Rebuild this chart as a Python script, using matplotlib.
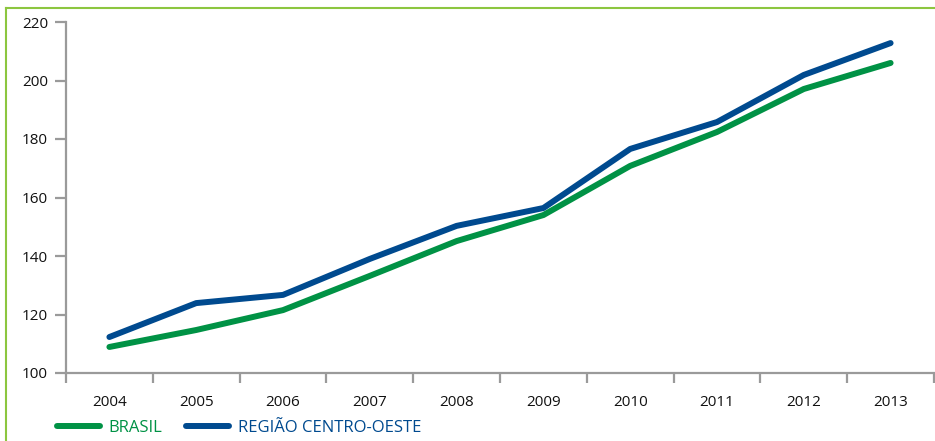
import matplotlib
matplotlib.use('Agg')
import matplotlib.pyplot as plt
from matplotlib.lines import Line2D
import numpy as np

GREEN = "#009245"
BLUE = "#004A8F"
FRAME = "#8CC63F"
AXGRAY = "#9A9A9A"

plt.rcParams.update({
    "font.family": ["Open Sans", "DejaVu Sans"],
    "figure.dpi": 100,
})

years = ['2004', '2005', '2006', '2007', '2008', '2009', '2010', '2011', '2012', '2013']
brasil = [108.9, 114.7, 121.5, 133.2, 145.1, 154.0, 170.8, 182.4, 197.1, 206.0]
centro_oeste = [112.3, 123.9, 126.7, 139.0, 150.3, 156.4, 176.6, 185.8, 201.9, 212.8]
yticks = [100, 120, 140, 160, 180, 200, 220]

fig = plt.figure(figsize=(9.35, 4.41))
ax = fig.add_axes([66/935, 1 - 373/441, 868/935, 351/441])

x = np.arange(len(years))
ax.plot(x, brasil, color=GREEN, linewidth=4.3, solid_capstyle='round',
        solid_joinstyle='round', label='BRASIL', zorder=3)
ax.plot(x, centro_oeste, color=BLUE, linewidth=4.3, solid_capstyle='round',
        solid_joinstyle='round', label='REGIÃO CENTRO-OESTE', zorder=3)

ax.set_xlim(-0.5, len(years) - 0.5)
ax.set_ylim(100, 220)
ax.set_yticks(yticks)
ax.set_xticks(x)
ax.set_xticklabels(years)
ax.set_xticks(np.arange(-0.5, len(years)), minor=True)

for s in ['top', 'right']:
    ax.spines[s].set_visible(False)
for s in ['left', 'bottom']:
    ax.spines[s].set_color(AXGRAY)
    ax.spines[s].set_linewidth(1.6)

ax.tick_params(axis='x', which='major', length=0, pad=16, labelsize=11, colors='#111111')
ax.tick_params(axis='x', which='minor', length=7, width=1.6, color=AXGRAY, direction='out')
ax.tick_params(axis='y', length=8, width=1.6, color=AXGRAY, labelsize=11,
               labelcolor='#111111', pad=5)
ax.set_facecolor('none')

# frame lines (left and top)
fig.add_artist(Line2D([6/935, 6/935], [0, 1 - 7.5/441], color=FRAME, linewidth=1.5))
fig.add_artist(Line2D([6/935, 1], [1 - 7.5/441, 1 - 7.5/441], color=FRAME, linewidth=1.5))

handles, labels = ax.get_legend_handles_labels()
leg = fig.legend(handles, labels, loc='center left', bbox_to_anchor=(57/935, 1 - 428/441),
                 ncol=2, frameon=False, borderpad=0, borderaxespad=0,
                 handlelength=2.6, handletextpad=0.5, columnspacing=1.4,
                 fontsize=12, labelcolor='linecolor')

fig.savefig("out.png", dpi=100)
